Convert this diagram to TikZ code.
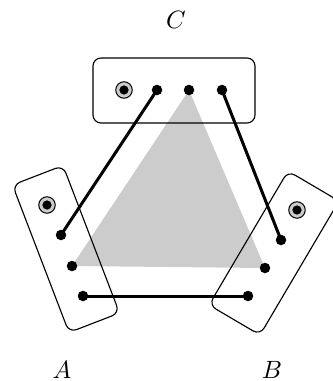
\documentclass[tikz,border=0pt]{standalone}
\usetikzlibrary{backgrounds}
\begin{document}
\begin{tikzpicture}[x=0.4pt,y=-0.4pt,
  dot/.style={circle,fill=black,inner sep=0pt,minimum size=4.2pt},
  ringdot/.style={circle,draw=black,fill=black!20,line width=0.4pt,inner sep=0pt,minimum size=6.6pt},
  innerdot/.style={circle,fill=black,inner sep=0pt,minimum size=3.7pt},
  box/.style={draw,line width=0.45pt,rounded corners=3.2pt},
  link/.style={line width=1.2pt},
  lab/.style={inner sep=0pt}]
\useasboundingbox (0,0) rectangle (333,381);
% boxes
\draw[box] (93,58) rectangle (255,123);
\draw[box] (12.5,185) -- (63,165.5) -- (119.5,313) -- (69,332.5) -- cycle;
\draw[box] (288,171) -- (339,201) -- (260,335) -- (209,305) -- cycle;
% C group
\node[ringdot] (cr) at (124,90) {};
\node[innerdot] (cri) at (cr.center) {};
\node[dot] (c1) at (157,90) {};
\node[dot] (c2) at (189,90) {};
\node[dot] (c3) at (222,90) {};
% A group
\node[ringdot] (ar) at (47,205) {};
\node[innerdot] (ari) at (ar.center) {};
\node[dot] (a1) at (61,235) {};
\node[dot] (a2) at (72,266) {};
\node[dot] (a3) at (83,296) {};
% B group
\node[ringdot] (br) at (297,210) {};
\node[innerdot] (bri) at (br.center) {};
\node[dot] (b1) at (281,240) {};
\node[dot] (b2) at (265,268) {};
\node[dot] (b3) at (248,296) {};
% triangle
\begin{scope}[on background layer]
\fill[black!20] (c2.center) -- (a2.center) -- (b2.center) -- cycle;
\end{scope}
% links
\draw[link] (c1.center) -- (a1.center);
\draw[link] (c3.center) -- (b1.center);
\draw[link] (a3.center) -- (b3.center);
% labels
\node[lab] (lc) at (176,20) {$C$};
\node[lab] (la) at (62,370) {$A$};
\node[lab] (lb) at (272,370) {$B$};
\end{tikzpicture}
\end{document}
